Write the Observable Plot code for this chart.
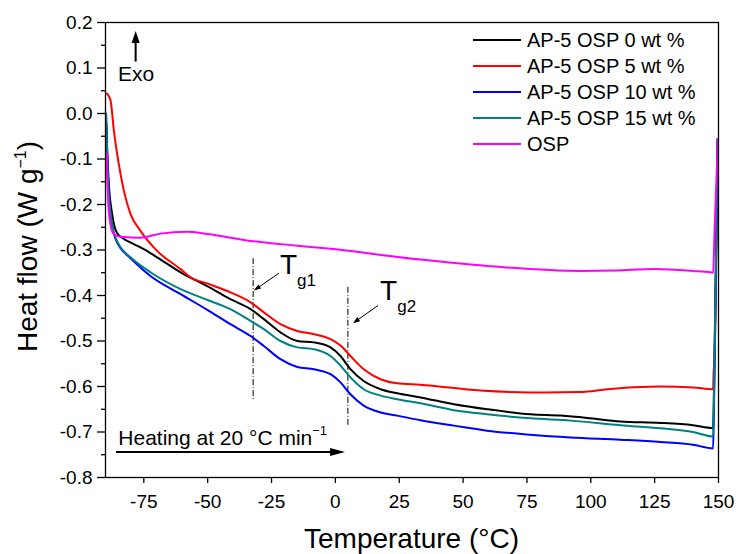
<!DOCTYPE html>
<html><head><meta charset="utf-8">
<script src="https://cdn.jsdelivr.net/npm/d3@7"></script>
<script src="https://cdn.jsdelivr.net/npm/@observablehq/plot@0.6"></script>
<style>
body{margin:0;background:#fff;}
svg{font-family:"Liberation Sans",Arial,sans-serif;}
</style>
</head><body><div id="chart"></div>
<script>
// ---- data (Temperature °C, Heat flow W/g) ----
const seriesNames = ["AP-5 OSP 0 wt %","AP-5 OSP 5 wt %","AP-5 OSP 10 wt %","AP-5 OSP 15 wt %","OSP"];
const seriesColors = ["#000000","#ff0000","#0000ff","#008080","#ff00ff"];

const osp0 = [[-89.7,-0.02],[-89.2,-0.10],[-88.5,-0.17],[-87.4,-0.221],[-86.4,-0.250],[-85.4,-0.263],[-83.5,-0.273],[-78.9,-0.287],[-75,-0.298],[-69.8,-0.316],[-60.6,-0.349],[-50,-0.380],[-41.1,-0.408],[-33.2,-0.430],[-28,-0.452],[-21.5,-0.481],[-14.9,-0.500],[-8.4,-0.503],[-1.9,-0.514],[2,-0.533],[5.9,-0.562],[11.1,-0.588],[17.7,-0.606],[24.2,-0.615],[33.3,-0.624],[46.4,-0.639],[59.4,-0.650],[76.4,-0.661],[88.2,-0.664],[98.6,-0.669],[111.6,-0.677],[127.3,-0.680],[140,-0.685],[147.9,-0.691],[148.3,-0.58],[149.7,-0.056]];
const osp5 = [[-89.5,0.044],[-88.9,0.040],[-88.0,0.028],[-86.7,-0.038],[-84.8,-0.111],[-82.8,-0.170],[-80.2,-0.221],[-76.3,-0.258],[-69.8,-0.302],[-60.6,-0.342],[-56.7,-0.360],[-50,-0.374],[-41.1,-0.393],[-33.2,-0.415],[-28,-0.437],[-21.5,-0.463],[-14.9,-0.478],[-8.4,-0.485],[-1.9,-0.496],[2,-0.510],[5.9,-0.533],[11.1,-0.562],[17.7,-0.584],[24.2,-0.593],[33.3,-0.596],[56.8,-0.609],[76.4,-0.613],[96,-0.612],[106.4,-0.606],[119.5,-0.601],[127.3,-0.600],[140,-0.602],[147.9,-0.606],[148.1,-0.567],[148.4,-0.55],[149.7,-0.056]];
const osp10 = [[-89.8,0.0],[-89.3,-0.10],[-88.7,-0.18],[-88,-0.223],[-87,-0.258],[-86.1,-0.275],[-84.1,-0.296],[-80.2,-0.318],[-72.4,-0.357],[-60.6,-0.397],[-50,-0.432],[-41.1,-0.463],[-33.2,-0.489],[-28,-0.511],[-21.5,-0.540],[-14.9,-0.557],[-8.4,-0.562],[-1.9,-0.573],[2,-0.591],[5.9,-0.617],[11.1,-0.642],[17.7,-0.657],[24.2,-0.664],[33.3,-0.674],[46.4,-0.686],[59.4,-0.697],[76.4,-0.706],[92.1,-0.712],[111.6,-0.717],[127.3,-0.722],[140,-0.728],[147.9,-0.736],[148.3,-0.62],[149.7,-0.056]];
const osp15 = [[-89.8,0.0],[-89.3,-0.10],[-88.7,-0.18],[-88,-0.221],[-87,-0.255],[-86.1,-0.272],[-84.1,-0.294],[-80.2,-0.316],[-72.4,-0.349],[-60.6,-0.386],[-50,-0.410],[-41.1,-0.430],[-33.2,-0.456],[-28,-0.474],[-21.5,-0.500],[-14.9,-0.514],[-8.4,-0.518],[-1.9,-0.533],[2,-0.554],[5.9,-0.580],[11.1,-0.606],[17.7,-0.620],[24.2,-0.628],[33.3,-0.637],[46.4,-0.652],[59.4,-0.661],[76.4,-0.670],[92.1,-0.675],[111.6,-0.685],[127.3,-0.692],[140,-0.700],[147.9,-0.710],[148.3,-0.60],[149.7,-0.056]];
const ospPure = [[-89.6,-0.086],[-89.3,-0.148],[-88.3,-0.236],[-86.8,-0.265],[-84.1,-0.271],[-76.3,-0.273],[-68.5,-0.264],[-58,-0.260],[-50,-0.265],[-33.2,-0.280],[-0.6,-0.298],[33.3,-0.321],[59.4,-0.335],[96,-0.346],[110,-0.345],[124.7,-0.342],[140,-0.346],[146.9,-0.349],[147.9,-0.350],[148.5,-0.25],[149.8,-0.056]];

const xTicks = [-75,-50,-25,0,25,50,75,100,125,150];
const yTicks = [0.2,0.1,0.0,-0.1,-0.2,-0.3,-0.4,-0.5,-0.6,-0.7,-0.8];
const yMinorTicks = [0.15,0.05,-0.05,-0.15,-0.25,-0.35,-0.45,-0.55,-0.65,-0.75];

const seriesValues = [osp0, osp5, osp10, osp15, ospPure];
const rows = [];
seriesValues.forEach((vals, i) => vals.forEach(([t, v]) => rows.push({t, v, name: seriesNames[i]})));

const fmtY = v => v.toFixed(1);

const plot = Plot.plot({
  width: 737, height: 554,
  marginLeft: 105, marginRight: 19, marginTop: 22, marginBottom: 77,
  x: {domain: [-90, 150]},
  y: {domain: [-0.8, 0.2]},
  color: {domain: seriesNames, range: seriesColors},
  style: {fontFamily: '"Liberation Sans", Arial, sans-serif', color: "#000", background: "#fff", overflow: "visible"},
  marks: [
    Plot.axisX({ticks: xTicks, tickSize: 6, tickPadding: 11, tickFormat: d => String(d), fontSize: 19, label: null, strokeWidth: 1.3}),
    Plot.axisY({ticks: yTicks, tickSize: 8, tickPadding: 5, tickFormat: fmtY, fontSize: 19, label: null, strokeWidth: 1.3}),
    Plot.axisY({ticks: yMinorTicks, tickSize: 4, tickFormat: () => "", label: null, strokeWidth: 1.3}),
    Plot.ruleX([-32.2], {y1: -0.319, y2: -0.631, stroke: "#000", strokeWidth: 1, strokeDasharray: "6,2,1,2"}),
    Plot.ruleX([4.9], {y1: -0.382, y2: -0.686, stroke: "#000", strokeWidth: 1, strokeDasharray: "6,2,1,2"}),
    Plot.line(rows, {x: "t", y: "v", z: "name", stroke: "name", strokeWidth: 2, curve: "monotone-x"}),
    Plot.frame({stroke: "#000", strokeWidth: 1.3})
  ]
});

const sx = plot.scale("x"), sy = plot.scale("y");
const X = v => sx.apply(v), Y = v => sy.apply(v);
const svg = d3.select(plot);
const g = svg.append("g").attr("fill", "#000").attr("text-anchor", "start");

function arrow(x1, y1, x2, y2, headLen, headW, sw) {
  const a = Math.atan2(y2 - y1, x2 - x1);
  const bx = x2 - headLen * Math.cos(a), by = y2 - headLen * Math.sin(a);
  g.append("line").attr("x1", x1).attr("y1", y1).attr("x2", bx + Math.cos(a)).attr("y2", by + Math.sin(a))
    .attr("stroke", "#000").attr("stroke-width", sw);
  const px = -Math.sin(a) * headW / 2, py = Math.cos(a) * headW / 2;
  g.append("path").attr("d", `M${x2},${y2}L${bx + px},${by + py}L${bx - px},${by - py}Z`).attr("fill", "#000");
}

// Exo
arrow(X(-78), Y(0.113), X(-78), Y(0.18), 12, 8, 2);
g.append("text").attr("x", X(-84.9)).attr("y", Y(0.070)).attr("font-size", 21).text("Exo");

// Heating
arrow(X(-85.7), Y(-0.745), X(4.0), Y(-0.745), 15, 8, 2);
const ht = g.append("text").attr("x", X(-84.8)).attr("y", Y(-0.730)).attr("font-size", 21);
ht.append("tspan").text("Heating at 20 \u00B0C min");
ht.append("tspan").attr("font-size", 13).attr("dy", -10).text("\u22121");

// Tg labels and arrows
arrow(X(-21.9), Y(-0.352), X(-31.7), Y(-0.390), 7, 5, 1);
arrow(X(16.9), Y(-0.423), X(7.1), Y(-0.462), 7, 5, 1);
function tg(t, v, sub) {
  const tx = g.append("text").attr("x", X(t)).attr("y", Y(v)).attr("font-size", 28);
  tx.append("tspan").text("T");
  tx.append("tspan").attr("font-size", 17).attr("dy", 12).text(sub);
}
tg(-21.5, -0.353, "g1");
tg(17.7, -0.4116, "g2");

// Axis titles
g.append("text").attr("x", (X(-90) + X(150)) / 2).attr("y", 548).attr("text-anchor", "middle")
  .attr("font-size", 28).text("Temperature (\u00B0C)");
const yt = g.append("text").attr("transform", `translate(37,${(Y(0.2) + Y(-0.8)) / 2 - 3}) rotate(-90)`)
  .attr("text-anchor", "middle").attr("font-size", 28);
yt.append("tspan").text("Heat flow (W g");
yt.append("tspan").attr("font-size", 16).attr("dy", -11).text("\u22121");
yt.append("tspan").attr("dy", 11).text(")");

// Legend
const lg = svg.append("g").attr("text-anchor", "start");
seriesNames.forEach((name, i) => {
  const y = 40 + i * 26;
  lg.append("line").attr("x1", 473).attr("x2", 521).attr("y1", y).attr("y2", y)
    .attr("stroke", seriesColors[i]).attr("stroke-width", 2);
  lg.append("text").attr("x", 527).attr("y", y).attr("dy", "0.36em").attr("font-size", 20).attr("fill", "#000").text(name);
});

document.getElementById("chart").appendChild(plot);
</script>
</body></html>
